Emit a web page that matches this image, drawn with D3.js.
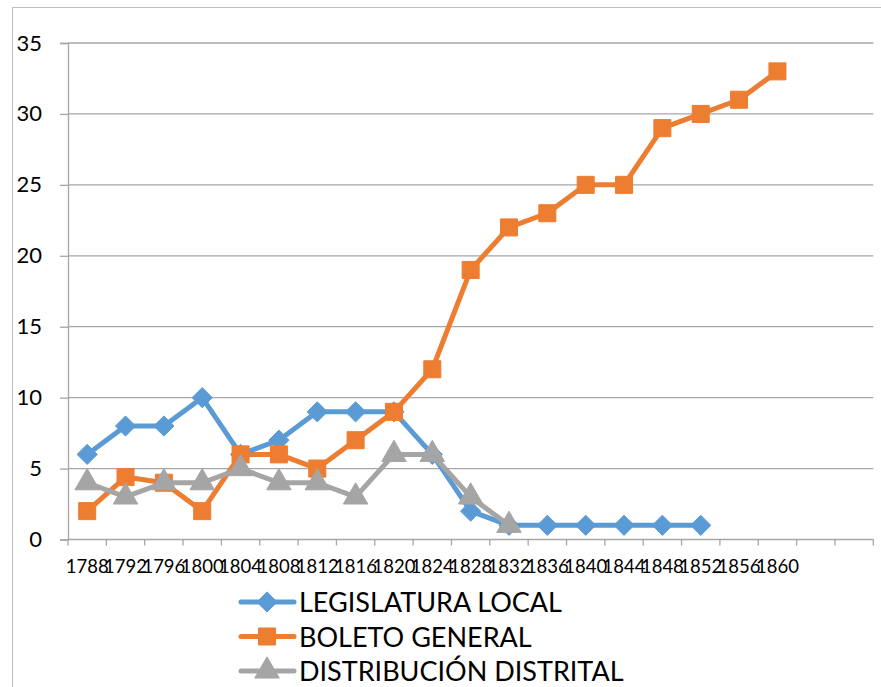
<!DOCTYPE html>
<html>
<head>
<meta charset="utf-8">
<script src="https://cdn.jsdelivr.net/npm/d3@7"></script>
<style>
  html, body { margin: 0; padding: 0; background: #fff; }
  svg { display: block; font-family: Lato, "Open Sans", sans-serif; }
</style>
</head>
<body>
<svg id="chart" width="881" height="687"></svg>
<script>
// Election years (two trailing empty slots keep the axis width)
const years = ["1788","1792","1796","1800","1804","1808","1812","1816","1820","1824",
               "1828","1832","1836","1840","1844","1848","1852","1856","1860","",""];
const yTicks = [0, 5, 10, 15, 20, 25, 30, 35];

const legislaturaLocal = [6, 8, 8, 10, 6, 7, 9, 9, 9, 6, 2, 1, 1, 1, 1, 1, 1, null, null];
const boletoGeneral    = [2, 4.4, 4, 2, 6, 6, 5, 7, 9, 12, 19, 22, 23, 25, 25, 29, 30, 31, 33];
const distribucion     = [4, 3, 4, 4, 5, 4, 4, 3, 6, 6, 3, 1, null, null, null, null, null, null, null];

const seriesNames  = ["LEGISLATURA LOCAL", "BOLETO GENERAL", "DISTRIBUCIÓN DISTRITAL"];
const seriesColors = ["#5B9BD5", "#ED7D31", "#A5A5A5"];
const seriesShapes = [d3.symbolDiamond2, d3.symbolSquare, d3.symbolTriangle];

const series = [legislaturaLocal, boletoGeneral, distribucion].map((vals, i) => ({
  name: seriesNames[i], color: seriesColors[i], shape: seriesShapes[i],
  points: vals.map((v, j) => ({ key: j, value: v })).filter(p => p.value !== null)
}));

const svg = d3.select("#chart");

// outer chart frame
svg.append("rect")
  .attr("x", 12.5).attr("y", 7.5).attr("width", 900).attr("height", 700)
  .attr("fill", "none").attr("stroke", "#BFBFBF").attr("stroke-width", 1);

const plot = { left: 68, right: 873.3, top: 43, bottom: 539.5 };

const x = d3.scaleBand().domain(d3.range(years.length))
  .range([plot.left, plot.right]).paddingInner(0).paddingOuter(0);
const y = d3.scaleLinear().domain([0, 35]).range([plot.bottom, plot.top]);

// horizontal gridlines + y axis
const yAxis = d3.axisLeft(y).tickValues(yTicks).tickSize(8).tickPadding(18);
const gy = svg.append("g").attr("transform", `translate(${plot.left},0)`).call(yAxis);
gy.select(".domain").attr("stroke", "#A6A6A6").attr("stroke-width", 1.3);
gy.selectAll(".tick line").attr("stroke", "#A6A6A6").attr("stroke-width", 1.3);
gy.selectAll(".tick text").attr("font-size", 22).attr("fill", "#000")
  .attr("font-family", "Lato, 'Open Sans', sans-serif");

svg.append("g").selectAll("line").data(yTicks.filter(t => t > 0)).join("line")
  .attr("x1", plot.left).attr("x2", plot.right)
  .attr("y1", d => y(d)).attr("y2", d => y(d))
  .attr("stroke", "#A6A6A6").attr("stroke-width", 1.3);

// x axis: ticks on category boundaries, labels centred in each band
const gx = svg.append("g").attr("transform", `translate(0,${plot.bottom})`);
gx.append("line").attr("x1", plot.left).attr("x2", plot.right)
  .attr("stroke", "#A6A6A6").attr("stroke-width", 1.3);
const bounds = d3.range(years.length + 1).map(i => i < years.length ? x(i) : plot.right);
gx.selectAll("line.tk").data(bounds).join("line").attr("class", "tk")
  .attr("x1", d => d).attr("x2", d => d).attr("y1", 0).attr("y2", 6)
  .attr("stroke", "#A6A6A6").attr("stroke-width", 1.3);
gx.selectAll("text").data(years.map((t, i) => ({ t, i }))).join("text")
  .attr("x", d => x(d.i) + x.bandwidth() / 2).attr("y", 33)
  .attr("text-anchor", "middle").attr("font-size", 18.5).attr("fill", "#000")
  .text(d => d.t);

// series lines and markers
const line = d3.line().x(d => x(d.key) + x.bandwidth() / 2).y(d => y(d.value));
const markerSize = { 0: 260, 1: 290, 2: 260 };

series.forEach((s, i) => {
  const g = svg.append("g");
  g.append("path").datum(s.points)
    .attr("d", line).attr("fill", "none")
    .attr("stroke", s.color).attr("stroke-width", 5)
    .attr("stroke-linejoin", "round").attr("stroke-linecap", "round");
  g.selectAll("path.m").data(s.points).join("path").attr("class", "m")
    .attr("transform", d => `translate(${x(d.key) + x.bandwidth() / 2},${y(d.value)})`)
    .attr("d", d3.symbol().type(s.shape).size(markerSize[i]))
    .attr("fill", s.color).attr("stroke", s.color).attr("stroke-width", 1);
});

// legend
const legend = svg.append("g");
series.forEach((s, i) => {
  const cy = 602 + i * 34.5;
  const row = legend.append("g").attr("transform", `translate(0,${cy})`);
  row.append("line").attr("x1", 241).attr("x2", 294).attr("y1", 0).attr("y2", 0)
    .attr("stroke", s.color).attr("stroke-width", 5).attr("stroke-linecap", "round");
  row.append("path").attr("transform", "translate(267,0)")
    .attr("d", d3.symbol().type(s.shape).size(markerSize[i]))
    .attr("fill", s.color).attr("stroke", s.color);
  row.append("text").attr("x", 299).attr("y", 10)
    .attr("font-size", 27).attr("fill", "#000").text(s.name);
});
</script>
</body>
</html>
